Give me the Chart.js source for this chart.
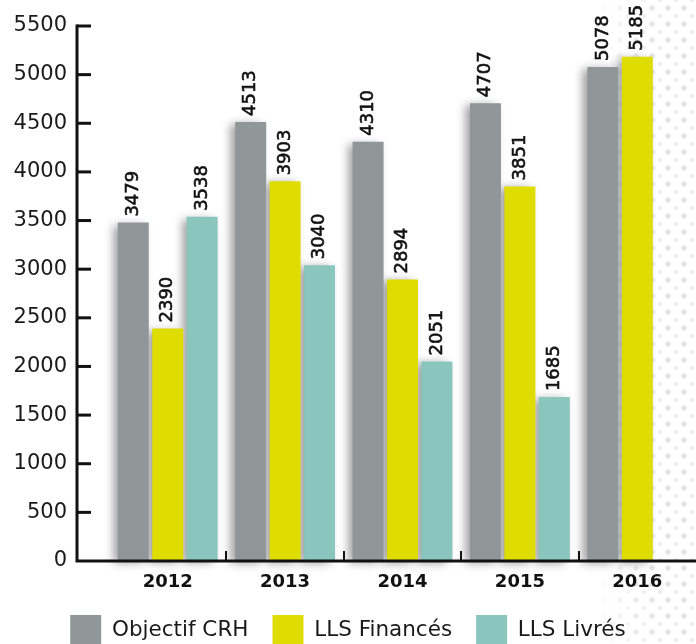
<!DOCTYPE html>
<html>
<head>
<meta charset="utf-8">
<script src="https://cdn.jsdelivr.net/npm/chart.js@4"></script>
<style>
    html, body { margin: 0; padding: 0; background: #fff; overflow: hidden; }
    .wrap { position: relative; width: 696px; height: 644px; overflow: hidden; }
    /* halftone dots on the right side */
    .dots {
        position: absolute; top: 0; right: 0; width: 100px; height: 644px;
        background-image: radial-gradient(circle, #e4e4e4 2.4px, transparent 3px),
                          radial-gradient(circle, #ececec 1.8px, transparent 2.4px);
        background-size: 16px 16px, 16px 16px;
        background-position: 0 0, 8px 8px;
        -webkit-mask-image: linear-gradient(to right, transparent 0%, #000 60%);
        mask-image: linear-gradient(to right, transparent 0%, #000 60%);
    }
    canvas { position: absolute; left: 0; top: 0; }
</style>
</head>
<body>
<div class="wrap">
    <div class="dots"></div>
    <canvas id="myChart" width="696" height="656"></canvas>
</div>
<script>
// Data
const years = ["2012", "2013", "2014", "2015", "2016"];
const objectifCRH = [3479, 4513, 4310, 4707, 5078];
const llsFinances = [2390, 3903, 2894, 3851, 5185];
const llsLivres = [3538, 3040, 2051, 1685, null];
const yTicks = [0, 500, 1000, 1500, 2000, 2500, 3000, 3500, 4000, 4500, 5000, 5500];

const FONT = "'DejaVu Sans', sans-serif";

// Drop shadow behind the bars
const barShadow = {
    id: 'barShadow',
    beforeDatasetsDraw(chart) {
        const ctx = chart.ctx;
        ctx.save();
        ctx.shadowColor = 'rgba(0,0,0,0.38)';
        ctx.shadowBlur = 9;
        ctx.shadowOffsetX = -5;
        ctx.shadowOffsetY = 2;
    },
    afterDatasetsDraw(chart) {
        chart.ctx.restore();
    }
};

// Rotated value labels above each bar
const valueLabels = {
    id: 'valueLabels',
    afterDatasetsDraw(chart) {
        const ctx = chart.ctx;
        ctx.save();
        ctx.fillStyle = '#111';
        ctx.strokeStyle = '#111';
        ctx.lineWidth = 0.6;
        ctx.font = '18px ' + FONT;
        ctx.textAlign = 'left';
        ctx.textBaseline = 'middle';
        chart.data.datasets.forEach((ds, i) => {
            const meta = chart.getDatasetMeta(i);
            meta.data.forEach((bar, j) => {
                const v = ds.data[j];
                if (v === null || v === undefined) return;
                ctx.save();
                ctx.translate(bar.x, bar.y - 6);
                ctx.rotate(-Math.PI / 2);
                ctx.fillText(String(v), 0, 0);
                ctx.strokeText(String(v), 0, 0);
                ctx.restore();
            });
        });
        ctx.restore();
    }
};

// Axes: y line sits left of the plot, ticks point inward
const axisLines = {
    id: 'axisLines',
    afterDraw(chart) {
        const ctx = chart.ctx;
        const x = chart.scales.x;
        const y = chart.scales.y;
        const axisX = chart.chartArea.left - 32;
        const y0 = y.getPixelForValue(0);
        ctx.save();
        ctx.strokeStyle = '#111';

        ctx.lineWidth = 3;
        ctx.beginPath();
        ctx.moveTo(axisX, y.getPixelForValue(yTicks[yTicks.length - 1]) - 1.5);
        ctx.lineTo(axisX, y0 + 1.5);
        ctx.moveTo(axisX - 1.5, y0);
        ctx.lineTo(chart.width, y0);
        ctx.stroke();

        yTicks.forEach(t => {
            if (t === 0) return;
            const py = y.getPixelForValue(t);
            ctx.beginPath();
            ctx.moveTo(axisX, py);
            ctx.lineTo(axisX + 14, py);
            ctx.stroke();
        });

        ctx.lineWidth = 2;
        for (let i = 0; i < years.length - 1; i++) {
            const px = Math.round((x.getPixelForValue(i) + x.getPixelForValue(i + 1)) / 2);
            ctx.beginPath();
            ctx.moveTo(px, y0);
            ctx.lineTo(px, y0 - 10);
            ctx.stroke();
        }
        ctx.restore();
    }
};

const ctx = document.getElementById("myChart").getContext("2d");
new Chart(ctx, {
    type: 'bar',
    data: {
        labels: years,
        datasets: [
            { label: 'Objectif CRH', data: objectifCRH, backgroundColor: '#8f9799' },
            { label: 'LLS Financés', data: llsFinances, backgroundColor: '#dfdc00' },
            { label: 'LLS Livrés', data: llsLivres, backgroundColor: '#8ac5be' }
        ]
    },
    options: {
        responsive: false,
        animation: false,
        layout: { padding: { top: 26, left: 0, right: 0, bottom: 0 } },
        datasets: {
            bar: {
                categoryPercentage: 0.88,
                barPercentage: 0.9,
                borderWidth: 0,
                clip: false
            }
        },
        plugins: {
            legend: {
                position: 'bottom',
                labels: {
                    boxWidth: 31,
                    boxHeight: 31,
                    padding: 24,
                    color: '#1a1a1a',
                    font: { family: FONT, size: 21.5 }
                }
            },
            tooltip: { enabled: false },
            title: { display: false }
        },
        scales: {
            x: {
                grid: { display: false, drawTicks: false },
                border: { display: false },
                ticks: {
                    color: '#111',
                    padding: 11,
                    font: { family: FONT, size: 18, weight: 'bold' }
                },
                afterFit(scale) { scale.height = 30; }
            },
            y: {
                min: 0,
                max: 5500,
                grid: { display: false, drawTicks: false },
                border: { display: false },
                afterBuildTicks(scale) { scale.ticks = yTicks.map(v => ({ value: v })); },
                ticks: {
                    color: '#1a1a1a',
                    padding: 42,
                    font: { family: FONT, size: 21 },
                    callback: v => String(v)
                },
                afterFit(scale) {
                    scale.width = 109;
                    scale.paddingTop = 0;
                    scale.paddingBottom = 0;
                }
            }
        }
    },
    plugins: [barShadow, valueLabels, axisLines]
});
</script>
</body>
</html>
